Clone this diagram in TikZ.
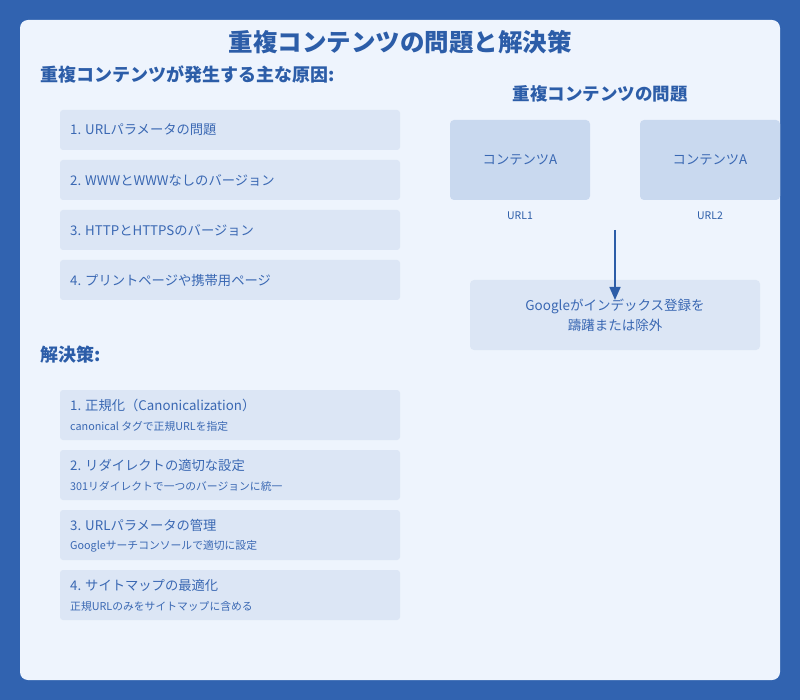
\documentclass[tikz,border=0pt]{standalone}
\usepackage{fontspec}
\setmainfont{Noto Sans CJK JP}
\usetikzlibrary{arrows.meta}
\definecolor{bg}{HTML}{3163B0}
\definecolor{panel}{HTML}{EEF4FD}
\definecolor{item}{HTML}{DCE6F5}
\definecolor{cbox}{HTML}{C9D9EF}
\definecolor{txt}{HTML}{3A68B3}
\definecolor{ttl}{HTML}{2C5DA8}
\tikzset{
  itembox/.style={fill=item,rounded corners=3pt,draw=none},
  itemtxt/.style={anchor=west,text=txt,font=\fontsize{13.3}{15}\selectfont,inner sep=0},
  subtxt/.style={anchor=west,text=txt,font=\fontsize{10.8}{12}\selectfont,inner sep=0},
  head/.style={anchor=west,text=ttl,font=\fontsize{18}{20}\selectfont\bfseries,inner sep=0},
}
\begin{document}
\begin{tikzpicture}[x=1pt,y=-1pt]
\useasboundingbox (0,0) rectangle (800,700);
\fill[bg] (0,0) rectangle (800,700);
\fill[panel,rounded corners=8pt] (20,20) rectangle (780,680);
\node[text=ttl,font=\fontsize{24.5}{26}\selectfont\bfseries] (title) at (400,42) {重複コンテンツの問題と解決策};
\node[head] (h1) at (40,75) {重複コンテンツが発生する主な原因:};
\foreach \y/\t [count=\i] in {110/1. URLパラメータの問題,160/2. WWWとWWWなしのバージョン,210/3. HTTPとHTTPSのバージョン,260/4. プリントページや携帯用ページ}{
  \fill[itembox] (60,\y) rectangle (400,\y+40);
  \node[itemtxt] (c\i) at (70,\y+20) {\t};
}
\node[head] (h2) at (40,355) {解決策:};
\foreach \y/\t/\s [count=\i] in {390/1. 正規化（Canonicalization）/canonical タグで正規URLを指定,450/2. リダイレクトの適切な設定/301リダイレクトで一つのバージョンに統一,510/3. URLパラメータの管理/Googleサーチコンソールで適切に設定,570/4. サイトマップの最適化/正規URLのみをサイトマップに含める}{
  \fill[itembox] (60,\y) rectangle (400,\y+50);
  \node[itemtxt] (s\i) at (70,\y+15) {\t};
  \node[subtxt] (t\i) at (70,\y+36) {\s};
}
\node[text=ttl,font=\fontsize{17.5}{20}\selectfont\bfseries] (h3) at (600,94) {重複コンテンツの問題};
\fill[cbox,rounded corners=4pt] (450,120) rectangle (590,200);
\fill[cbox,rounded corners=4pt] (640,120) rectangle (780,200);
\node[text=txt,font=\fontsize{13.3}{15}\selectfont] (a1) at (520,160) {コンテンツA};
\node[text=txt,font=\fontsize{13.3}{15}\selectfont] (a2) at (710,160) {コンテンツA};
\node[text=ttl,font=\fontsize{10.5}{12}\selectfont] (u1) at (520,216) {URL1};
\node[text=ttl,font=\fontsize{10.5}{12}\selectfont] (u2) at (710,216) {URL2};
\fill[item,rounded corners=4pt] (470,280) rectangle (760,350);
\node[text=txt,font=\fontsize{13.5}{20}\selectfont,align=center] (g) at (615,315) {Googleがインデックス登録を\\躊躇または除外};
\coordinate (ar1) at (615,230);
\coordinate (ar2) at (615,300);
\draw[ttl,line width=1.6pt,-{Triangle[length=13pt,width=11pt]}] (ar1) -- (ar2);
\end{tikzpicture}
\end{document}
